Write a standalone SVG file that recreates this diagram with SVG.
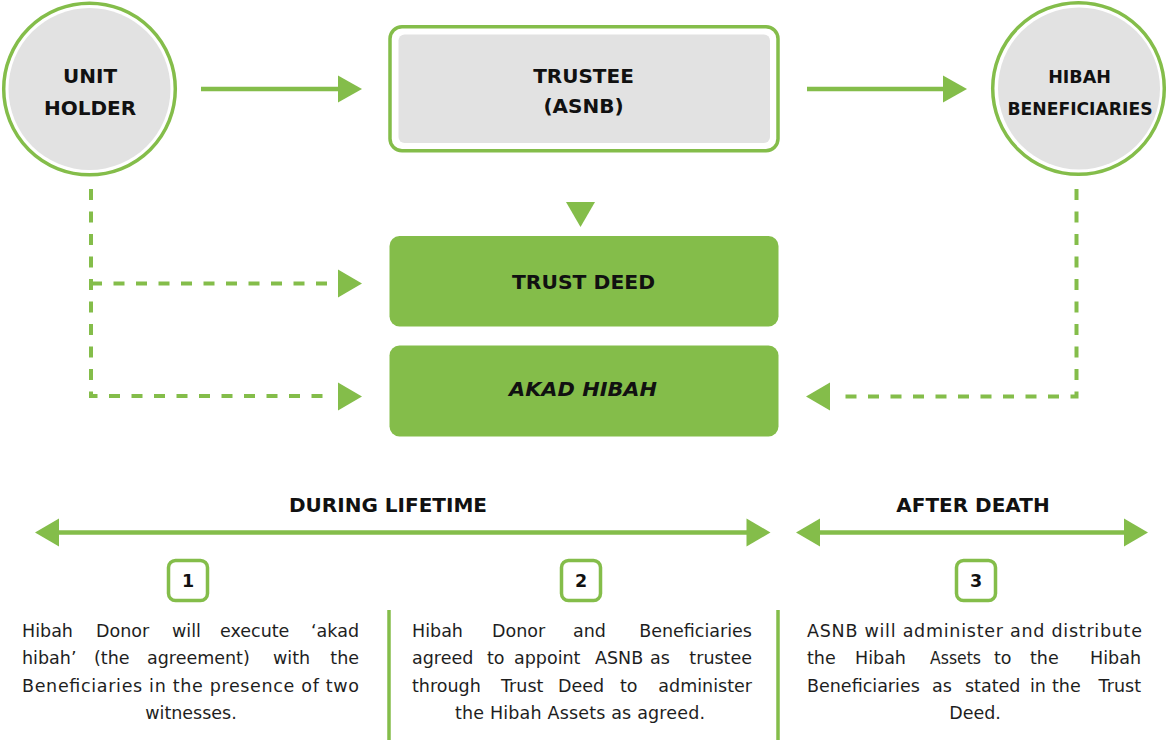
<svg xmlns="http://www.w3.org/2000/svg" width="1169" height="740" viewBox="0 0 1169 740">
<style>
.ring{fill:none;stroke:#84bd4a;stroke-width:3.5}
.gray{fill:#e2e2e2}
.gbox{fill:#84bd4a}
.h{font-family:"DejaVu Sans","Liberation Sans",sans-serif;font-weight:bold;font-size:20px;fill:#111;text-anchor:middle}
.hs{font-size:17.5px}
.it{font-style:italic}
.b{font-family:"DejaVu Sans","Liberation Sans",sans-serif;font-size:17.5px;fill:#1e1e1e}
.solid{stroke:#84bd4a;stroke-width:4.5;fill:none}
.dash{stroke:#84bd4a;stroke-width:4;fill:none;stroke-dasharray:11 11.5}
.ah{fill:#84bd4a}
.sep{stroke:#84bd4a;stroke-width:3.5}
.num{fill:#fff;stroke:#84bd4a;stroke-width:3.5}
</style>
<rect width="1169" height="740" fill="#fff"/>

<g id="unit-holder">
<circle cx="89.5" cy="89" r="85.8" class="ring"/>
<circle cx="89.5" cy="89" r="81" class="gray"/>
<text class="h" x="90" y="83">UNIT</text>
<text class="h" x="90" y="115">HOLDER</text>
</g>

<g id="trustee">
<rect x="390" y="26.7" width="388" height="124" rx="12" class="ring"/>
<rect x="398.5" y="34.5" width="371.5" height="108.5" rx="6" class="gray"/>
<text class="h" x="583.5" y="83">TRUSTEE</text>
<text class="h" x="583.5" y="113">(ASNB)</text>
</g>

<g id="hibah-beneficiaries">
<circle cx="1078.5" cy="88.5" r="85.8" class="ring"/>
<circle cx="1079" cy="88.5" r="81" class="gray"/>
<text class="h hs" x="1079.5" y="83">HIBAH</text>
<text class="h hs" x="1080" y="115" textLength="145" lengthAdjust="spacingAndGlyphs">BENEFICIARIES</text>
</g>

<g id="trust-deed">
<rect x="389.5" y="236" width="389" height="90.5" rx="10" class="gbox"/>
<text class="h" x="583.5" y="289" textLength="143" lengthAdjust="spacingAndGlyphs">TRUST DEED</text>
</g>

<g id="akad-hibah">
<rect x="389.5" y="345.5" width="389" height="91" rx="10" class="gbox"/>
<text class="h it" x="583" y="396" textLength="148" lengthAdjust="spacingAndGlyphs">AKAD HIBAH</text>
</g>

<g id="connectors">
<line x1="201" y1="89" x2="340" y2="89" class="solid"/>
<polygon points="338,75.5 362,89 338,102.5" class="ah"/>
<line x1="807" y1="89" x2="945" y2="89" class="solid"/>
<polygon points="943,75.5 967,89 943,102.5" class="ah"/>
<polygon points="566,202 595,202 580.5,227" class="ah"/>
<polyline points="91,189 91,396 330,396" class="dash"/>
<line x1="91" y1="283.5" x2="330" y2="283.5" class="dash"/>
<polygon points="338,269.5 362,283.5 338,297.5" class="ah"/>
<polygon points="338,382.5 362,396.5 338,410.5" class="ah"/>
<polyline points="1076.5,189 1076.5,396.5 842,396.5" class="dash"/>
<polygon points="830,382.5 806,396.5 830,410.5" class="ah"/>
</g>

<g id="timeline">
<text class="h" x="388" y="512">DURING LIFETIME</text>
<line x1="55" y1="532.5" x2="750" y2="532.5" class="solid"/>
<polygon points="59,518.5 35,532.5 59,546.5" class="ah"/>
<polygon points="746.5,518.5 770.5,532.5 746.5,546.5" class="ah"/>
<text class="h" x="973" y="512">AFTER DEATH</text>
<line x1="816" y1="532.5" x2="1128" y2="532.5" class="solid"/>
<polygon points="820,518.5 796,532.5 820,546.5" class="ah"/>
<polygon points="1124,518.5 1148,532.5 1124,546.5" class="ah"/>
<line x1="389" y1="610" x2="389" y2="740" class="sep"/>
<line x1="778" y1="610" x2="778" y2="740" class="sep"/>
</g>

<g id="step-1">
<rect x="168.5" y="560.5" width="39" height="40" rx="7" class="num"/>
<text class="h hs" x="188" y="587">1</text>
<text class="b"><tspan x="22" y="637">Hibah</tspan><tspan x="96">Donor</tspan><tspan x="172">will</tspan><tspan x="220">execute</tspan><tspan x="359" text-anchor="end">‘akad</tspan></text>
<text class="b"><tspan x="22" y="664">hibah’</tspan><tspan x="94">(the</tspan><tspan x="147">agreement)</tspan><tspan x="273">with</tspan><tspan x="359" text-anchor="end">the</tspan></text>
<text class="b" x="22" y="692" textLength="337" lengthAdjust="spacing">Beneficiaries in the presence of two</text>
<text class="b" x="191" y="719" text-anchor="middle">witnesses.</text>
</g>

<g id="step-2">
<rect x="561.5" y="560.5" width="39" height="40" rx="7" class="num"/>
<text class="h hs" x="581" y="587">2</text>
<text class="b"><tspan x="412" y="637">Hibah</tspan><tspan x="492">Donor</tspan><tspan x="573">and</tspan><tspan x="752" text-anchor="end">Beneficiaries</tspan></text>
<text class="b"><tspan x="412" y="664">agreed</tspan><tspan x="487">to</tspan><tspan x="514">appoint</tspan><tspan x="595">ASNB</tspan><tspan x="650">as</tspan><tspan x="752" text-anchor="end">trustee</tspan></text>
<text class="b"><tspan x="412" y="692">through</tspan><tspan x="501">Trust</tspan><tspan x="558">Deed</tspan><tspan x="620">to</tspan><tspan x="752" text-anchor="end">administer</tspan></text>
<text class="b" x="580" y="719" text-anchor="middle" textLength="250" lengthAdjust="spacing">the Hibah Assets as agreed.</text>
</g>

<g id="step-3">
<rect x="956.5" y="560.5" width="39" height="40" rx="7" class="num"/>
<text class="h hs" x="976" y="587">3</text>
<text class="b" x="807" y="637" textLength="335" lengthAdjust="spacing">ASNB will administer and distribute</text>
<text class="b"><tspan x="807" y="664">the</tspan><tspan x="855">Hibah</tspan><tspan x="930" textLength="51" lengthAdjust="spacingAndGlyphs">Assets</tspan><tspan x="994">to</tspan><tspan x="1030">the</tspan><tspan x="1141" text-anchor="end">Hibah</tspan></text>
<text class="b"><tspan x="807" y="692">Beneficiaries</tspan><tspan x="932">as</tspan><tspan x="965">stated</tspan><tspan x="1030">in</tspan><tspan x="1052">the</tspan><tspan x="1141" text-anchor="end">Trust</tspan></text>
<text class="b" x="975" y="719" text-anchor="middle">Deed.</text>
</g>
</svg>
